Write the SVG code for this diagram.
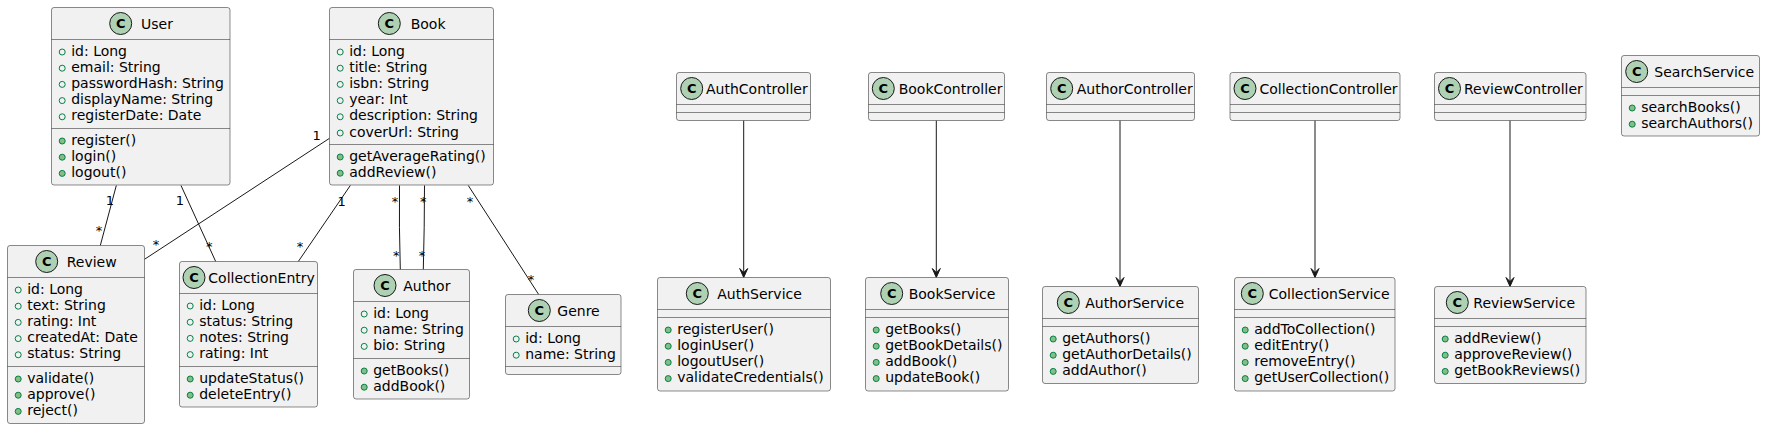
<svg xmlns="http://www.w3.org/2000/svg" width="1765" height="429" viewBox="0 0 1765 429">
<style>
.box{fill:#F1F1F1;stroke:#181818;stroke-width:0.5}
.sep{stroke:#181818;stroke-width:0.5}
.ci{fill:#ADD1B2;stroke:#181818;stroke-width:1}
.cl{font-family:"DejaVu Sans",sans-serif;font-weight:bold;font-size:13px;fill:#000;text-anchor:middle}
.t{font-family:"DejaVu Sans",sans-serif;font-size:14px;fill:#000}
.ia{fill:none;stroke:#038048;stroke-width:1}
.im{fill:#84BE84;stroke:#038048;stroke-width:1}
.ln{stroke:#181818;stroke-width:1;fill:none}
.ah{fill:#181818;stroke:#181818;stroke-width:1}
.ml{font-family:"DejaVu Sans",sans-serif;font-size:13px;fill:#000;text-anchor:middle}
</style>

<g id="connectors">
<path class="ln" d="M116.3,185.5 L100.3,245.5"/>
<path class="ln" d="M181,185.5 L215.7,261.5"/>
<path class="ln" d="M329.5,138.3 L144.5,259.3"/>
<path class="ln" d="M350.3,185.5 L298.3,261.5"/>
<path class="ln" d="M399.5,185.5 Q399,227 400.3,269.5"/>
<path class="ln" d="M424.5,185.5 Q424.5,227 423.3,269.5"/>
<path class="ln" d="M468.3,185.5 L538.7,294.5"/>
<path class="ln" d="M743.7,120.5 L743.7,276"/>
<polygon class="ah" points="743.7,277.5 739.7,268.5 743.7,272.5 747.7,268.5"/>
<path class="ln" d="M936.3,120.5 L936.3,276"/>
<polygon class="ah" points="936.3,277.5 932.3,268.5 936.3,272.5 940.3,268.5"/>
<path class="ln" d="M1120,120.5 L1120,285"/>
<polygon class="ah" points="1120,286.5 1116,277.5 1120,281.5 1124,277.5"/>
<path class="ln" d="M1315,120.5 L1315,276"/>
<polygon class="ah" points="1315,277.5 1311,268.5 1315,272.5 1319,268.5"/>
<path class="ln" d="M1510,120.5 L1510,285"/>
<polygon class="ah" points="1510,286.5 1506,277.5 1510,281.5 1514,277.5"/>
<text class="ml" x="110" y="205.4">1</text>
<text class="ml" x="99" y="234.7">*</text>
<text class="ml" x="180" y="205.4">1</text>
<text class="ml" x="209.3" y="251.3">*</text>
<text class="ml" x="316.7" y="139.7">1</text>
<text class="ml" x="156" y="249">*</text>
<text class="ml" x="341.7" y="205.7">1</text>
<text class="ml" x="300" y="251.3">*</text>
<text class="ml" x="395" y="206">*</text>
<text class="ml" x="396.3" y="259.7">*</text>
<text class="ml" x="423.3" y="206">*</text>
<text class="ml" x="422" y="259.7">*</text>
<text class="ml" x="470" y="206">*</text>
<text class="ml" x="531" y="284.3">*</text>
</g>

<g id="User">
<rect class="box" x="51.5" y="7.5" width="178.5" height="177.5" rx="2.5"/>
<line class="sep" x1="51.5" y1="39.5" x2="230" y2="39.5"/>
<line class="sep" x1="51.5" y1="128.5" x2="230" y2="128.5"/>
<circle class="ci" cx="120.7" cy="23.5" r="11"/><text class="cl" x="120.7" y="28.2">C</text>
<text class="t" x="141" y="28.5">User</text>
<circle class="ia" cx="62.2" cy="52" r="3"/><text class="t" x="71.2" y="55.5">id: Long</text>
<circle class="ia" cx="62.2" cy="68.2" r="3"/><text class="t" x="71.2" y="71.7">email: String</text>
<circle class="ia" cx="62.2" cy="84.4" r="3"/><text class="t" x="71.2" y="87.9">passwordHash: String</text>
<circle class="ia" cx="62.2" cy="100.6" r="3"/><text class="t" x="71.2" y="104.1">displayName: String</text>
<circle class="ia" cx="62.2" cy="116.8" r="3"/><text class="t" x="71.2" y="120.3">registerDate: Date</text>
<circle class="im" cx="62.2" cy="141" r="3"/><text class="t" x="71.2" y="144.5">register()</text>
<circle class="im" cx="62.2" cy="157.2" r="3"/><text class="t" x="71.2" y="160.7">login()</text>
<circle class="im" cx="62.2" cy="173.4" r="3"/><text class="t" x="71.2" y="176.9">logout()</text>
</g>

<g id="Book">
<rect class="box" x="329.5" y="7.5" width="164" height="177.5" rx="2.5"/>
<line class="sep" x1="329.5" y1="39.5" x2="493.5" y2="39.5"/>
<line class="sep" x1="329.5" y1="144.5" x2="493.5" y2="144.5"/>
<circle class="ci" cx="389.3" cy="23.5" r="11"/><text class="cl" x="389.3" y="28.2">C</text>
<text class="t" x="410.7" y="28.5">Book</text>
<circle class="ia" cx="340.2" cy="52" r="3"/><text class="t" x="349.2" y="55.5">id: Long</text>
<circle class="ia" cx="340.2" cy="68.2" r="3"/><text class="t" x="349.2" y="71.7">title: String</text>
<circle class="ia" cx="340.2" cy="84.4" r="3"/><text class="t" x="349.2" y="87.9">isbn: String</text>
<circle class="ia" cx="340.2" cy="100.6" r="3"/><text class="t" x="349.2" y="104.1">year: Int</text>
<circle class="ia" cx="340.2" cy="116.8" r="3"/><text class="t" x="349.2" y="120.3">description: String</text>
<circle class="ia" cx="340.2" cy="133" r="3"/><text class="t" x="349.2" y="136.5">coverUrl: String</text>
<circle class="im" cx="340.2" cy="157" r="3"/><text class="t" x="349.2" y="160.5">getAverageRating()</text>
<circle class="im" cx="340.2" cy="173.2" r="3"/><text class="t" x="349.2" y="176.7">addReview()</text>
</g>

<g id="Review">
<rect class="box" x="7.5" y="245.5" width="137" height="178" rx="2.5"/>
<line class="sep" x1="7.5" y1="277.5" x2="144.5" y2="277.5"/>
<line class="sep" x1="7.5" y1="366.5" x2="144.5" y2="366.5"/>
<circle class="ci" cx="46.7" cy="261.5" r="11"/><text class="cl" x="46.7" y="266.2">C</text>
<text class="t" x="66.7" y="266.5">Review</text>
<circle class="ia" cx="18.2" cy="290" r="3"/><text class="t" x="27.2" y="293.5">id: Long</text>
<circle class="ia" cx="18.2" cy="306.2" r="3"/><text class="t" x="27.2" y="309.7">text: String</text>
<circle class="ia" cx="18.2" cy="322.4" r="3"/><text class="t" x="27.2" y="325.9">rating: Int</text>
<circle class="ia" cx="18.2" cy="338.6" r="3"/><text class="t" x="27.2" y="342.1">createdAt: Date</text>
<circle class="ia" cx="18.2" cy="354.8" r="3"/><text class="t" x="27.2" y="358.3">status: String</text>
<circle class="im" cx="18.2" cy="379" r="3"/><text class="t" x="27.2" y="382.5">validate()</text>
<circle class="im" cx="18.2" cy="395.2" r="3"/><text class="t" x="27.2" y="398.7">approve()</text>
<circle class="im" cx="18.2" cy="411.4" r="3"/><text class="t" x="27.2" y="414.9">reject()</text>
</g>

<g id="CollectionEntry">
<rect class="box" x="179.5" y="261.5" width="138" height="145.5" rx="2.5"/>
<line class="sep" x1="179.5" y1="293.5" x2="317.5" y2="293.5"/>
<line class="sep" x1="179.5" y1="366.5" x2="317.5" y2="366.5"/>
<circle class="ci" cx="194" cy="277.5" r="11"/><text class="cl" x="194" y="282.2">C</text>
<text class="t" x="208.3" y="282.5">CollectionEntry</text>
<circle class="ia" cx="190.2" cy="306" r="3"/><text class="t" x="199.2" y="309.5">id: Long</text>
<circle class="ia" cx="190.2" cy="322.2" r="3"/><text class="t" x="199.2" y="325.7">status: String</text>
<circle class="ia" cx="190.2" cy="338.4" r="3"/><text class="t" x="199.2" y="341.9">notes: String</text>
<circle class="ia" cx="190.2" cy="354.6" r="3"/><text class="t" x="199.2" y="358.1">rating: Int</text>
<circle class="im" cx="190.2" cy="379" r="3"/><text class="t" x="199.2" y="382.5">updateStatus()</text>
<circle class="im" cx="190.2" cy="395.2" r="3"/><text class="t" x="199.2" y="398.7">deleteEntry()</text>
</g>

<g id="Author">
<rect class="box" x="353.5" y="269.5" width="116" height="129.5" rx="2.5"/>
<line class="sep" x1="353.5" y1="301.5" x2="469.5" y2="301.5"/>
<line class="sep" x1="353.5" y1="358.5" x2="469.5" y2="358.5"/>
<circle class="ci" cx="385" cy="285.5" r="11"/><text class="cl" x="385" y="290.2">C</text>
<text class="t" x="403.3" y="290.5">Author</text>
<circle class="ia" cx="364.2" cy="314" r="3"/><text class="t" x="373.2" y="317.5">id: Long</text>
<circle class="ia" cx="364.2" cy="330.2" r="3"/><text class="t" x="373.2" y="333.7">name: String</text>
<circle class="ia" cx="364.2" cy="346.4" r="3"/><text class="t" x="373.2" y="349.9">bio: String</text>
<circle class="im" cx="364.2" cy="371" r="3"/><text class="t" x="373.2" y="374.5">getBooks()</text>
<circle class="im" cx="364.2" cy="387.2" r="3"/><text class="t" x="373.2" y="390.7">addBook()</text>
</g>

<g id="Genre">
<rect class="box" x="505.5" y="294.5" width="115.5" height="80" rx="2.5"/>
<line class="sep" x1="505.5" y1="326.5" x2="621" y2="326.5"/>
<line class="sep" x1="505.5" y1="366.5" x2="621" y2="366.5"/>
<circle class="ci" cx="539.3" cy="310.5" r="11"/><text class="cl" x="539.3" y="315.2">C</text>
<text class="t" x="557.3" y="315.5">Genre</text>
<circle class="ia" cx="516.2" cy="339" r="3"/><text class="t" x="525.2" y="342.5">id: Long</text>
<circle class="ia" cx="516.2" cy="355.2" r="3"/><text class="t" x="525.2" y="358.7">name: String</text>
</g>

<g id="AuthController">
<rect class="box" x="676.5" y="72.5" width="134" height="48" rx="2.5"/>
<line class="sep" x1="676.5" y1="104.5" x2="810.5" y2="104.5"/>
<line class="sep" x1="676.5" y1="112.5" x2="810.5" y2="112.5"/>
<circle class="ci" cx="691.7" cy="88.5" r="11"/><text class="cl" x="691.7" y="93.2">C</text>
<text class="t" x="706" y="93.5">AuthController</text>
</g>

<g id="AuthService">
<rect class="box" x="657.5" y="277.5" width="173" height="113.5" rx="2.5"/>
<line class="sep" x1="657.5" y1="309.5" x2="830.5" y2="309.5"/>
<line class="sep" x1="657.5" y1="317.5" x2="830.5" y2="317.5"/>
<circle class="ci" cx="697.3" cy="293.5" r="11"/><text class="cl" x="697.3" y="298.2">C</text>
<text class="t" x="717.3" y="298.5">AuthService</text>
<circle class="im" cx="668.2" cy="330" r="3"/><text class="t" x="677.2" y="333.5">registerUser()</text>
<circle class="im" cx="668.2" cy="346.2" r="3"/><text class="t" x="677.2" y="349.7">loginUser()</text>
<circle class="im" cx="668.2" cy="362.4" r="3"/><text class="t" x="677.2" y="365.9">logoutUser()</text>
<circle class="im" cx="668.2" cy="378.6" r="3"/><text class="t" x="677.2" y="382.1">validateCredentials()</text>
</g>

<g id="BookController">
<rect class="box" x="868.5" y="72.5" width="136" height="48" rx="2.5"/>
<line class="sep" x1="868.5" y1="104.5" x2="1004.5" y2="104.5"/>
<line class="sep" x1="868.5" y1="112.5" x2="1004.5" y2="112.5"/>
<circle class="ci" cx="883.3" cy="88.5" r="11"/><text class="cl" x="883.3" y="93.2">C</text>
<text class="t" x="898.7" y="93.5">BookController</text>
</g>

<g id="BookService">
<rect class="box" x="865.5" y="277.5" width="143" height="113.5" rx="2.5"/>
<line class="sep" x1="865.5" y1="309.5" x2="1008.5" y2="309.5"/>
<line class="sep" x1="865.5" y1="317.5" x2="1008.5" y2="317.5"/>
<circle class="ci" cx="891.7" cy="293.5" r="11"/><text class="cl" x="891.7" y="298.2">C</text>
<text class="t" x="908.7" y="298.5">BookService</text>
<circle class="im" cx="876.2" cy="330" r="3"/><text class="t" x="885.2" y="333.5">getBooks()</text>
<circle class="im" cx="876.2" cy="346.2" r="3"/><text class="t" x="885.2" y="349.7">getBookDetails()</text>
<circle class="im" cx="876.2" cy="362.4" r="3"/><text class="t" x="885.2" y="365.9">addBook()</text>
<circle class="im" cx="876.2" cy="378.6" r="3"/><text class="t" x="885.2" y="382.1">updateBook()</text>
</g>

<g id="AuthorController">
<rect class="box" x="1046.5" y="72.5" width="148" height="48" rx="2.5"/>
<line class="sep" x1="1046.5" y1="104.5" x2="1194.5" y2="104.5"/>
<line class="sep" x1="1046.5" y1="112.5" x2="1194.5" y2="112.5"/>
<circle class="ci" cx="1061.7" cy="88.5" r="11"/><text class="cl" x="1061.7" y="93.2">C</text>
<text class="t" x="1076.7" y="93.5">AuthorController</text>
</g>

<g id="AuthorService">
<rect class="box" x="1042.5" y="286.5" width="156" height="97" rx="2.5"/>
<line class="sep" x1="1042.5" y1="318.5" x2="1198.5" y2="318.5"/>
<line class="sep" x1="1042.5" y1="326.5" x2="1198.5" y2="326.5"/>
<circle class="ci" cx="1068.3" cy="302.5" r="11"/><text class="cl" x="1068.3" y="307.2">C</text>
<text class="t" x="1085.3" y="307.5">AuthorService</text>
<circle class="im" cx="1053.2" cy="339" r="3"/><text class="t" x="1062.2" y="342.5">getAuthors()</text>
<circle class="im" cx="1053.2" cy="355.2" r="3"/><text class="t" x="1062.2" y="358.7">getAuthorDetails()</text>
<circle class="im" cx="1053.2" cy="371.4" r="3"/><text class="t" x="1062.2" y="374.9">addAuthor()</text>
</g>

<g id="CollectionController">
<rect class="box" x="1230" y="72.5" width="170" height="48" rx="2.5"/>
<line class="sep" x1="1230" y1="104.5" x2="1400" y2="104.5"/>
<line class="sep" x1="1230" y1="112.5" x2="1400" y2="112.5"/>
<circle class="ci" cx="1245" cy="88.5" r="11"/><text class="cl" x="1245" y="93.2">C</text>
<text class="t" x="1259.5" y="93.5">CollectionController</text>
</g>

<g id="CollectionService">
<rect class="box" x="1234.5" y="277.5" width="160.5" height="113.5" rx="2.5"/>
<line class="sep" x1="1234.5" y1="309.5" x2="1395" y2="309.5"/>
<line class="sep" x1="1234.5" y1="317.5" x2="1395" y2="317.5"/>
<circle class="ci" cx="1252.3" cy="293.5" r="11"/><text class="cl" x="1252.3" y="298.2">C</text>
<text class="t" x="1268.7" y="298.5">CollectionService</text>
<circle class="im" cx="1245.2" cy="330" r="3"/><text class="t" x="1254.2" y="333.5">addToCollection()</text>
<circle class="im" cx="1245.2" cy="346.2" r="3"/><text class="t" x="1254.2" y="349.7">editEntry()</text>
<circle class="im" cx="1245.2" cy="362.4" r="3"/><text class="t" x="1254.2" y="365.9">removeEntry()</text>
<circle class="im" cx="1245.2" cy="378.6" r="3"/><text class="t" x="1254.2" y="382.1">getUserCollection()</text>
</g>

<g id="ReviewController">
<rect class="box" x="1434.5" y="72.5" width="151.5" height="48" rx="2.5"/>
<line class="sep" x1="1434.5" y1="104.5" x2="1586" y2="104.5"/>
<line class="sep" x1="1434.5" y1="112.5" x2="1586" y2="112.5"/>
<circle class="ci" cx="1449.5" cy="88.5" r="11"/><text class="cl" x="1449.5" y="93.2">C</text>
<text class="t" x="1464" y="93.5">ReviewController</text>
</g>

<g id="ReviewService">
<rect class="box" x="1434.5" y="286.5" width="151.5" height="97" rx="2.5"/>
<line class="sep" x1="1434.5" y1="318.5" x2="1586" y2="318.5"/>
<line class="sep" x1="1434.5" y1="326.5" x2="1586" y2="326.5"/>
<circle class="ci" cx="1457.3" cy="302.5" r="11"/><text class="cl" x="1457.3" y="307.2">C</text>
<text class="t" x="1473.3" y="307.5">ReviewService</text>
<circle class="im" cx="1445.2" cy="339" r="3"/><text class="t" x="1454.2" y="342.5">addReview()</text>
<circle class="im" cx="1445.2" cy="355.2" r="3"/><text class="t" x="1454.2" y="358.7">approveReview()</text>
<circle class="im" cx="1445.2" cy="371.4" r="3"/><text class="t" x="1454.2" y="374.9">getBookReviews()</text>
</g>

<g id="SearchService">
<rect class="box" x="1621.5" y="55.5" width="138" height="80.5" rx="2.5"/>
<line class="sep" x1="1621.5" y1="87.5" x2="1759.5" y2="87.5"/>
<line class="sep" x1="1621.5" y1="95.5" x2="1759.5" y2="95.5"/>
<circle class="ci" cx="1636.7" cy="71.5" r="11"/><text class="cl" x="1636.7" y="76.2">C</text>
<text class="t" x="1654.3" y="76.5">SearchService</text>
<circle class="im" cx="1632.2" cy="108" r="3"/><text class="t" x="1641.2" y="111.5">searchBooks()</text>
<circle class="im" cx="1632.2" cy="124.2" r="3"/><text class="t" x="1641.2" y="127.7">searchAuthors()</text>
</g>
</svg>
